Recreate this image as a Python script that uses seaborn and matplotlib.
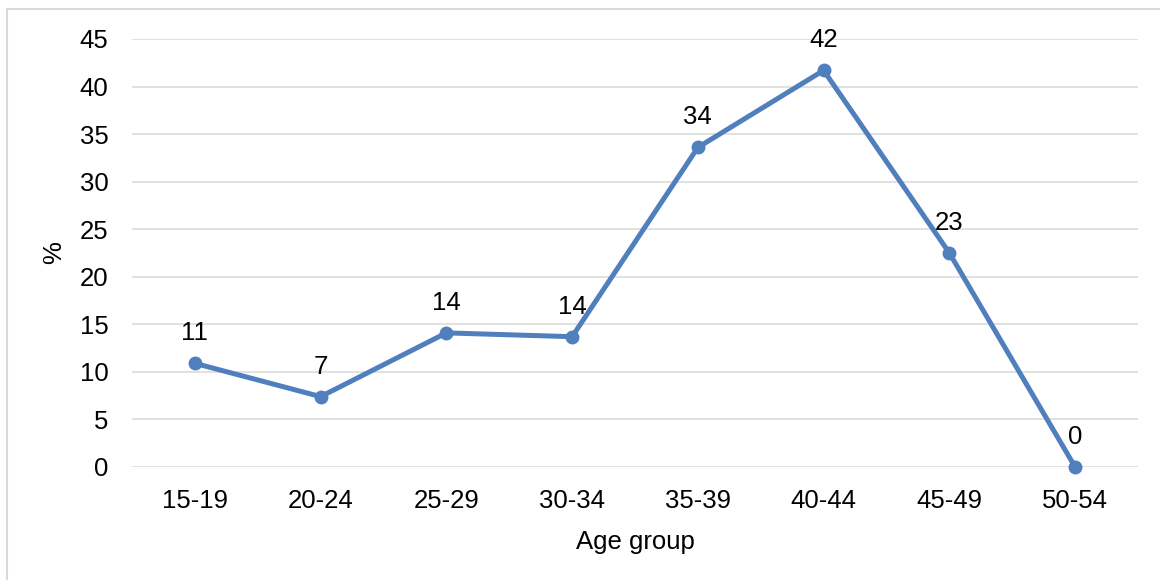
import matplotlib
matplotlib.use("Agg")
import matplotlib.pyplot as plt
import seaborn as sns
import pandas as pd
from matplotlib.patches import Rectangle

categories = ["15-19", "20-24", "25-29", "30-34", "35-39", "40-44", "45-49", "50-54"]
values = [10.9, 7.4, 14.1, 13.7, 33.6, 41.7, 22.5, 0.0]
labels = ["11", "7", "14", "14", "34", "42", "23", "0"]
yticks = [0, 5, 10, 15, 20, 25, 30, 35, 40, 45]

sns.set_theme(style="white")
plt.rcParams['font.family'] = ['Liberation Sans', 'DejaVu Sans']

df = pd.DataFrame({"Age group": categories, "pct": values})

fig = plt.figure(figsize=(11.6, 5.8), dpi=100)
ax = fig.add_axes([132/1160, 1-467/580, (1138-132)/1160, (467-39)/580])

color = "#4F7FBC"
sns.lineplot(data=df, x="Age group", y="pct", ax=ax, color=color, linewidth=3.6,
             marker="o", markersize=10, markeredgewidth=0, sort=False, zorder=3)
for ln in ax.lines:
    ln.set_clip_on(False)

for i, (v, lab) in enumerate(zip(values, labels)):
    ax.annotate(lab, xy=(i, v), xytext=(0, 13), textcoords="offset points",
                ha="center", va="bottom", fontsize=18.5, color="#000000")

ax.set_xlim(-0.5, len(categories) - 0.5)
ax.set_ylim(0, 45)
ax.set_yticks(yticks)
ax.set_yticklabels([str(t) for t in yticks])
ax.yaxis.grid(True, color="#D9D9D9", linewidth=1.1)
ax.xaxis.grid(False)
for s in ax.spines.values():
    s.set_visible(False)
ax.tick_params(axis="y", length=0, pad=17, labelsize=18.5, labelcolor="#000000")
ax.tick_params(axis="x", length=0, pad=16, labelsize=18.5, labelcolor="#000000")
ax.set_xlabel("Age group", fontsize=18.5, labelpad=12, color="#000000")
ax.set_ylabel("%", fontsize=18.5, labelpad=10, color="#000000")

fig.patches.append(Rectangle((7/1160, -0.1), 1.2, 1 - 9/580 + 0.1, transform=fig.transFigure,
                             fill=False, edgecolor="#D9D9D9", linewidth=1.5, zorder=0))

fig.savefig("out.png", dpi=100)
